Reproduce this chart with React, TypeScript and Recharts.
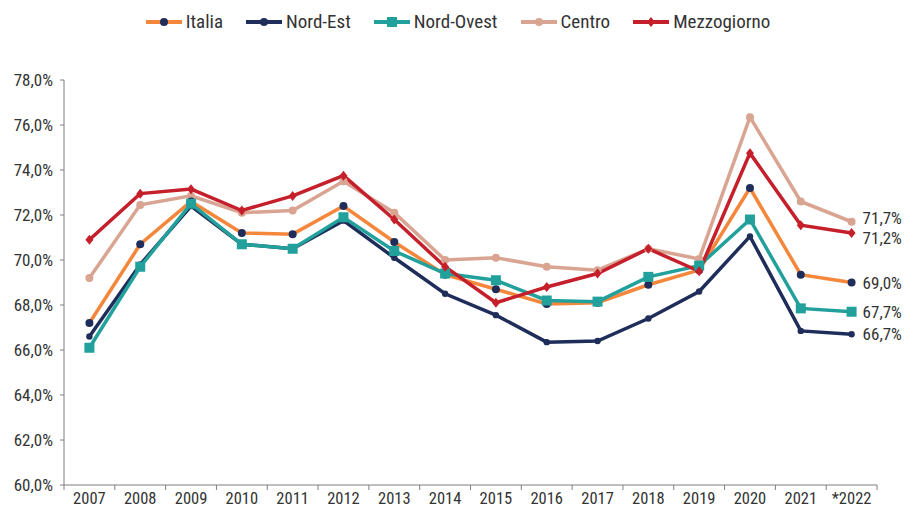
import React from "react"
import { LineChart, Line, XAxis, YAxis, LabelList } from "recharts"

const years = ["2007", "2008", "2009", "2010", "2011", "2012", "2013", "2014", "2015", "2016", "2017", "2018", "2019", "2020", "2021", "*2022"]

const italia = [67.2, 70.7, 72.6, 71.2, 71.15, 72.4, 70.8, 69.35, 68.7, 68.05, 68.1, 68.9, 69.55, 73.2, 69.35, 69.0]
const nordEst = [66.6, 69.8, 72.4, 70.7, 70.5, 71.75, 70.1, 68.5, 67.55, 66.35, 66.4, 67.4, 68.6, 71.05, 66.85, 66.7]
const nordOvest = [66.1, 69.7, 72.5, 70.7, 70.5, 71.9, 70.4, 69.4, 69.1, 68.2, 68.15, 69.25, 69.75, 71.8, 67.85, 67.7]
const centro = [69.2, 72.45, 72.85, 72.1, 72.2, 73.5, 72.1, 70.0, 70.1, 69.7, 69.55, 70.5, 70.05, 76.35, 72.6, 71.7]
const mezzogiorno = [70.9, 72.95, 73.15, 72.2, 72.85, 73.75, 71.8, 69.7, 68.1, 68.8, 69.4, 70.5, 69.5, 74.75, 71.55, 71.2]

const yTicks = [60, 62, 64, 66, 68, 70, 72, 74, 76, 78]

const data = years.map((year, i) => ({
  year,
  italia: italia[i],
  nordEst: nordEst[i],
  nordOvest: nordOvest[i],
  centro: centro[i],
  mezzogiorno: mezzogiorno[i],
}))

const FONT = "'Roboto Condensed', 'Liberation Sans Narrow', 'DejaVu Sans Condensed', sans-serif"
const NAVY = "#1f2d5a"

const fmt = (v: number) => v.toFixed(1).replace(".", ",") + "%"

type Shape = "circle" | "smallCircle" | "square" | "diamond"

const series: { key: string; name: string; color: string; dot: string; shape: Shape; dy: number }[] = [
  { key: "italia", name: "Italia", color: "#f4873b", dot: NAVY, shape: "circle", dy: 0 },
  { key: "nordEst", name: "Nord-Est", color: NAVY, dot: NAVY, shape: "smallCircle", dy: 0 },
  { key: "nordOvest", name: "Nord-Ovest", color: "#22a19c", dot: "#22a19c", shape: "square", dy: 0 },
  { key: "centro", name: "Centro", color: "#d9a492", dot: "#d9a492", shape: "circle", dy: -4 },
  { key: "mezzogiorno", name: "Mezzogiorno", color: "#c41f2a", dot: "#c41f2a", shape: "diamond", dy: 5 },
]

// draw order differs from legend order
const drawOrder = ["centro", "italia", "nordEst", "nordOvest", "mezzogiorno"]

function Marker({ cx, cy, shape, fill }: { cx: number; cy: number; shape: Shape; fill: string }) {
  if (shape === "square") return <rect x={cx - 5} y={cy - 5} width={10} height={10} fill={fill} />
  if (shape === "diamond")
    return <path d={`M${cx},${cy - 5} L${cx + 4},${cy} L${cx},${cy + 5} L${cx - 4},${cy} Z`} fill={fill} />
  return <circle cx={cx} cy={cy} r={shape === "circle" ? 4 : 3.2} fill={fill} />
}

const XTick = (props: any) => {
  const { x, y, payload, index } = props
  const half = 813 / 16 / 2
  return (
    <g>
      <line x1={x - half} x2={x - half} y1={y} y2={y + 5} stroke="#7f7f7f" />
      {index === years.length - 1 && <line x1={x + half} x2={x + half} y1={y} y2={y + 5} stroke="#7f7f7f" />}
      <text x={x} y={y + 19} textAnchor="middle" fill="#333" fontSize={16.5} fontFamily={FONT}>
        {payload.value}
      </text>
    </g>
  )
}

function Legend() {
  return (
    <div
      style={{
        position: "absolute",
        top: 10,
        left: 0,
        width: 908,
        display: "flex",
        justifyContent: "center",
        gap: 22,
        paddingLeft: 7,
        boxSizing: "border-box",
        fontFamily: FONT,
        fontSize: 19,
        color: "#333",
      }}
    >
      {series.map((s) => (
        <div key={s.key} style={{ display: "flex", alignItems: "center" }}>
          <svg width={38} height={22} style={{ marginRight: 3 }}>
            <line x1={1} x2={37} y1={11} y2={11} stroke={s.color} strokeWidth={4} />
            <Marker cx={19} cy={11} shape={s.shape === "smallCircle" ? "circle" : s.shape} fill={s.dot} />
          </svg>
          <span>{s.name}</span>
        </div>
      ))}
    </div>
  )
}

export default function App() {
  return (
    <div style={{ position: "relative", width: 908, height: 509, background: "#fff" }}>
      <style>{`body{margin:0}`}</style>
      <Legend />
      <LineChart width={908} height={509} data={data} margin={{ top: 80, right: 31, bottom: 0, left: 0 }}>
        <XAxis
          dataKey="year"
          scale="band"
          interval={0}
          height={24}
          tickLine={false}
          tickSize={0}
          tickMargin={0}
          stroke="#7f7f7f"
          tick={<XTick />}
        />
        <YAxis
          domain={[60, 78]}
          ticks={yTicks}
          width={64}
          tickSize={4}
          tickMargin={7}
          tickFormatter={fmt}
          stroke="#7f7f7f"
          tick={{ fill: "#333", fontSize: 17, fontFamily: FONT }}
        />
        {drawOrder.map((k) => {
          const s = series.find((x) => x.key === k)!
          return (
            <Line
              key={s.key}
              dataKey={s.key}
              name={s.name}
              stroke={s.color}
              strokeWidth={3.5}
              isAnimationActive={false}
              dot={(p: any) => <Marker key={`${s.key}-${p.index}`} cx={p.cx} cy={p.cy} shape={s.shape} fill={s.dot} />}
              activeDot={false}
            >
              <LabelList
                dataKey={s.key}
                content={(p: any) =>
                  p.index === years.length - 1 ? (
                    <text
                      x={p.x + 11}
                      y={p.y + s.dy}
                      dominantBaseline="central"
                      fill="#333"
                      fontSize={17}
                      fontFamily={FONT}
                    >
                      {fmt(p.value)}
                    </text>
                  ) : null
                }
              />
            </Line>
          )
        })}
      </LineChart>
    </div>
  )
}
